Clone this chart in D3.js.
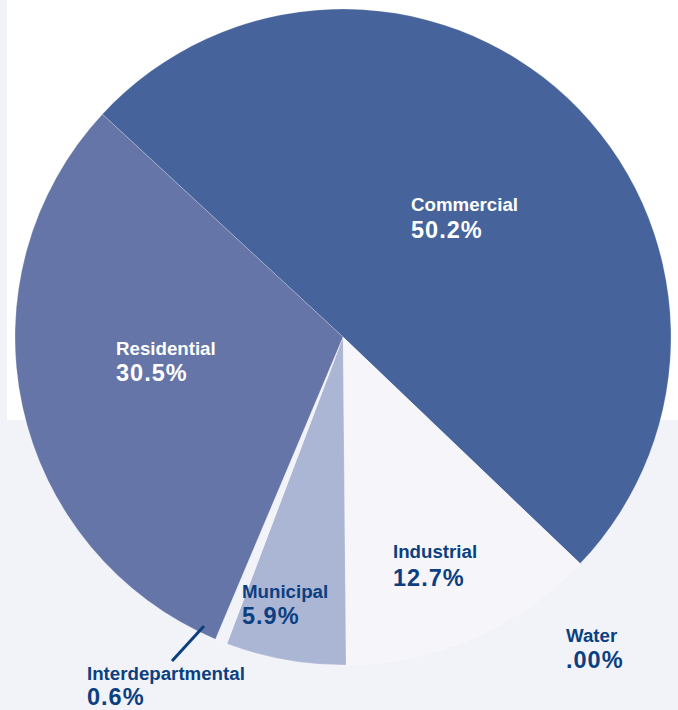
<!DOCTYPE html>
<html>
<head>
<meta charset="utf-8">
<script src="https://cdn.jsdelivr.net/npm/d3@7/dist/d3.min.js"></script>
<style>
html,body{margin:0;padding:0;background:#f2f3f8;}
svg{display:block;}
text{font-family:"Liberation Sans",Arial,Helvetica,sans-serif;font-weight:bold;}
</style>
</head>
<body>
<svg id="chart" width="678" height="710"></svg>
<script>
const categories = ["Commercial","Industrial","Water","Municipal","Interdepartmental","Residential"];
const values = [50.2, 12.7, 0.0, 5.9, 0.6, 30.5];
const valueLabels = ["50.2%","12.7%",".00%","5.9%","0.6%","30.5%"];
const colors = ["#46649b","#f6f6fa","#f6f6fa","#abb5d4","#f2f3f8","#6575a7"];
const textColors = ["#ffffff","#0b3f80","#0b3f80","#0b3f80","#0b3f80","#ffffff"];
const labelX = [411, 393, 566, 242, 87, 116];
const nameY = [211, 558, 642, 598, 680, 355];
const valueY = [238, 586, 668, 624, 705, 381];

const svg = d3.select("#chart");
svg.append("rect").attr("x",0).attr("y",0).attr("width",678).attr("height",710).attr("fill","#f2f3f8");
svg.append("rect").attr("x",7).attr("y",0).attr("width",671).attr("height",420).attr("fill","#ffffff");

const cx = 343, cy = 337, R = 328;
const start = -47.2 * Math.PI/180;
const pie = d3.pie().sort(null).value(d => d.v).startAngle(start).endAngle(start + 2*Math.PI);
const data = categories.map((c,i)=>({c, v: values[i], i}));
const arcs = pie(data);
const arc = d3.arc().innerRadius(0).outerRadius(R);

const g = svg.append("g").attr("transform",`translate(${cx},${cy})`);
g.selectAll("path").data(arcs).enter().append("path")
  .attr("d", arc)
  .attr("fill", d => colors[d.data.i])
  .attr("stroke", "rgba(255,255,255,0.35)")
  .attr("stroke-width", 0.6);

// leader line for Interdepartmental label
const lx = labelX[4], ly = nameY[4];
svg.append("line")
  .attr("x1", lx + 117).attr("y1", ly - 54)
  .attr("x2", lx + 85).attr("y2", ly - 19)
  .attr("stroke","#0b3f80").attr("stroke-width",3);

const lab = svg.append("g");
categories.forEach((c,i)=>{
  lab.append("text").attr("x",labelX[i]).attr("y",nameY[i])
    .attr("fill",textColors[i]).attr("font-size","18.7px").text(c);
  lab.append("text").attr("x",labelX[i]).attr("y",valueY[i])
    .attr("fill",textColors[i]).attr("font-size","23.5px")
    .attr("letter-spacing","1px").text(valueLabels[i]);
});
</script>
</body>
</html>
